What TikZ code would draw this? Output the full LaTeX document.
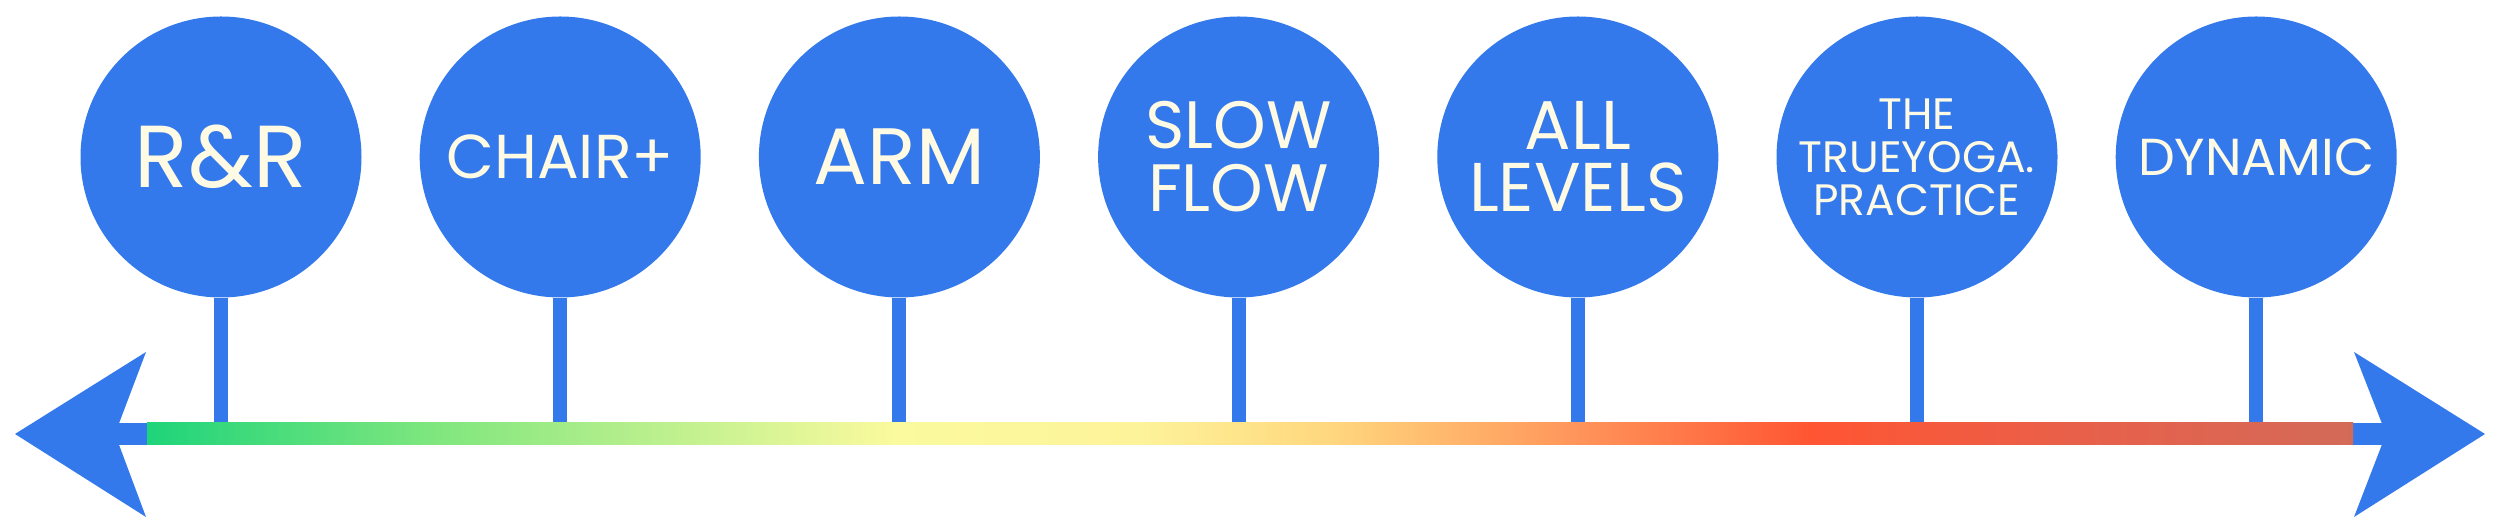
\documentclass[tikz,border=0pt]{standalone}
\usepackage{fontspec}
\setmainfont{Poppins}
\usepackage{xcolor}
\usepackage{tikz}

\definecolor{dotblue}{HTML}{3479EC}
\definecolor{cream}{HTML}{FFFAE3}
\definecolor{g0}{HTML}{1ED47A}
\definecolor{g1}{HTML}{7EE67E}
\definecolor{g2}{HTML}{FBFA9E}
\definecolor{g3}{HTML}{FDF39A}
\definecolor{g4}{HTML}{FFD77E}
\definecolor{g5}{HTML}{FF8C55}
\definecolor{g6}{HTML}{FF5533}
\definecolor{g7}{HTML}{E8604A}
\definecolor{g8}{HTML}{D36A58}
\pgfdeclarehorizontalshading{levelbar}{100bp}{color(0bp)=(g0); color(25bp)=(g0);
  color(31.4bp)=(g1); color(42bp)=(g2); color(47.5bp)=(g3); color(51.8bp)=(g4);
  color(58.15bp)=(g5); color(62.7bp)=(g6); color(68.8bp)=(g7); color(75bp)=(g8);
  color(100bp)=(g8)}

\begin{document}
\begin{tikzpicture}[x=1pt, y=1pt, node distance={339.2pt},
	main/.style = {circle, fill=dotblue, text=cream, minimum size=281pt, inner sep=0pt, align=center},
	stem/.style = {draw=dotblue, line width=14pt}]
	\useasboundingbox (0,0) rectangle (2500,529);
	\node[main, font=\fontsize{88}{88}\selectfont] (0) at (221,372) {R\&R};
	\node[main, font=\fontsize{62}{62}\selectfont] [right of=0] (1) {CHAIR+};
	\node[main, font=\fontsize{80}{80}\selectfont] [right of=1] (2) {ARM};
	\node[main, font=\fontsize{67}{63}\selectfont] [right of=2] (3) {SLOW\\FLOW};
	\node[main, font=\fontsize{69}{62}\selectfont] [right of=3] (4) {ALL\\LEVELS};
	\node[main, font=\fontsize{44}{43}\selectfont] [right of=4] (5) {THE\\TRUEYOGA.\\PRACTICE};
	\node[main, font=\fontsize{52}{52}\selectfont] [right of=5] (6) {DYNAMIC};
	% axis
	\coordinate (bar) at (0,106);
	\coordinate (lefttip) at (15,95);
	\coordinate (leftnotch) at (115,95);
	\coordinate (righttip) at (2485,95);
	\coordinate (rightnotch) at (2386,95);
	\foreach \i in {0,...,6}
		\draw[stem] (\i.south) -- (\i.south |- bar);
	\draw[dotblue, line width=22pt] (leftnotch) -- (rightnotch);
	\fill[dotblue] (lefttip) -- (146,177) -- (leftnotch) -- (146,12) -- cycle;
	\fill[dotblue] (righttip) -- (2354,177) -- (rightnotch) -- (2354,12) -- cycle;
	\shade[shading=levelbar] (147,84) rectangle (2353,106);
\end{tikzpicture}
\end{document}
